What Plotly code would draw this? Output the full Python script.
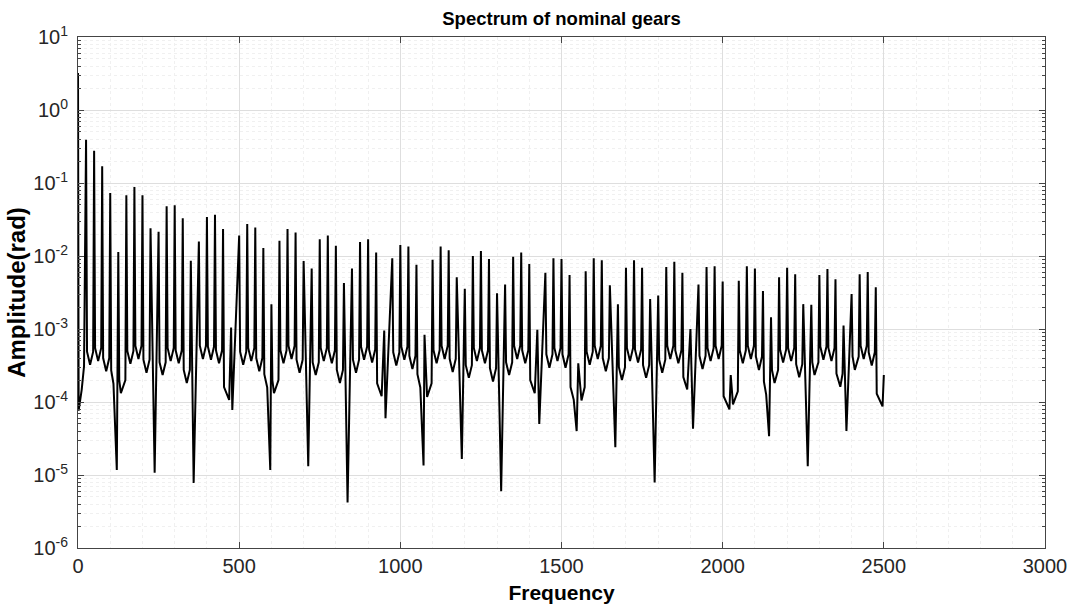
import plotly.graph_objects as go

# DC component
dc_freq = [0]
dc_amp = [3.2]

# Spectral peaks (Hz, rad)
peak_freq = [25, 50, 75, 100, 125, 150, 175, 200, 225, 250, 275, 300, 325, 350, 375, 400,
             425, 450, 475, 500, 525, 550, 575, 600, 625, 650, 675, 700, 725, 750, 775, 800,
             825, 850, 875, 900, 925, 950, 975, 1000, 1025, 1050, 1075, 1100, 1125, 1150,
             1175, 1200, 1225, 1250, 1275, 1300, 1325, 1350, 1375, 1400, 1425, 1450, 1475,
             1500, 1525, 1552, 1575, 1600, 1625, 1650, 1675, 1700, 1725, 1750, 1775, 1800,
             1825, 1850, 1875, 1900, 1925, 1950, 1975, 2000, 2025, 2050, 2075, 2100, 2125,
             2150, 2175, 2200, 2225, 2250, 2275, 2300, 2325, 2350, 2375, 2400, 2425, 2450, 2475]
peak_amp = [0.392, 0.277, 0.169, 0.0729, 0.0113, 0.0678, 0.0881, 0.0678, 0.0239, 0.0215,
            0.0479, 0.0494, 0.0328, 0.00863, 0.0158, 0.0342, 0.0368, 0.0234, 0.00105, 0.0191,
            0.0275, 0.0245, 0.0129, 0.00219, 0.0162, 0.0234, 0.0209, 0.00851, 0.00676, 0.0170,
            0.0191, 0.0138, 0.00427, 0.00676, 0.0155, 0.0170, 0.0112, 0.000955, 0.00933, 0.0141,
            0.0135, 0.00759, 0.000832, 0.00891, 0.0135, 0.0120, 0.00513, 0.00355, 0.0100, 0.0117,
            0.00912, 0.00309, 0.00407, 0.00977, 0.0112, 0.00776, 0.000977, 0.00589, 0.00933,
            0.00912, 0.00550, 0.000339, 0.00617, 0.00933, 0.00871, 0.00398, 0.00219, 0.00692,
            0.00871, 0.00692, 0.00257, 0.00288, 0.00708, 0.00832, 0.00589, 0.00100, 0.00407,
            0.00708, 0.00724, 0.00447, 0.000234, 0.00457, 0.00724, 0.00676, 0.00331, 0.00145,
            0.00513, 0.00692, 0.00562, 0.00219, 0.00214, 0.00550, 0.00661, 0.00479, 0.00112,
            0.00302, 0.00562, 0.00603, 0.00372]

# Base of each spike, where the line leaves the trough and turns vertical (Hz, rad)
shoulder_freq = [28, 47, 53, 72, 78, 97, 103, 128, 147, 153, 172, 178, 197, 203, 222, 253, 272,
                 278, 297, 303, 322, 328, 347, 378, 397, 403, 422, 428, 447, 453, 503, 522, 528,
                 547, 553, 572, 578, 603, 622, 628, 647, 653, 672, 678, 697, 728, 747, 753, 772,
                 778, 797, 803, 822, 853, 872, 878, 897, 903, 922, 928, 978, 997, 1003, 1022,
                 1028, 1047, 1053, 1097, 1103, 1122, 1128, 1147, 1153, 1172, 1203, 1222, 1228,
                 1247, 1253, 1272, 1278, 1297, 1328, 1347, 1353, 1372, 1378, 1397, 1403, 1453,
                 1472, 1478, 1497, 1503, 1522, 1528, 1572, 1578, 1597, 1603, 1622, 1628, 1647,
                 1678, 1697, 1703, 1722, 1728, 1747, 1753, 1772, 1803, 1822, 1828, 1847, 1853,
                 1872, 1878, 1928, 1947, 1953, 1972, 1978, 1997, 2003, 2047, 2053, 2072, 2078,
                 2097, 2103, 2122, 2128, 2153, 2172, 2178, 2197, 2203, 2222, 2228, 2247, 2278,
                 2297, 2303, 2322, 2328, 2347, 2353, 2372, 2403, 2422, 2428, 2447, 2453, 2472,
                 2478]
shoulder_amp = [4.9e-4, 4.9e-4, 5.5e-4, 5.5e-4, 4.0e-4, 4.0e-4, 2.7e-4, 2.0e-4, 2.0e-4, 5.0e-4,
                5.0e-4, 5.9e-4, 5.9e-4, 3.8e-4, 3.8e-4, 3.5e-4, 3.5e-4, 5.5e-4, 5.5e-4, 5.1e-4,
                5.1e-4, 2.75e-4, 2.75e-4, 5.9e-4, 5.9e-4, 5.75e-4, 5.75e-4, 5.1e-4, 5.1e-4,
                1.6e-4, 4.9e-4, 4.9e-4, 5.5e-4, 5.5e-4, 4.0e-4, 4.0e-4, 2.4e-4, 2.0e-4, 2.0e-4,
                5.1e-4, 5.1e-4, 5.9e-4, 5.9e-4, 3.8e-4, 3.8e-4, 3.5e-4, 3.5e-4, 5.5e-4, 5.5e-4,
                5.1e-4, 5.1e-4, 2.75e-4, 2.75e-4, 3.8e-4, 3.8e-4, 5.75e-4, 5.75e-4, 5.25e-4,
                5.25e-4, 1.8e-4, 4.8e-4, 4.8e-4, 5.75e-4, 5.75e-4, 4.3e-4, 4.3e-4, 2.4e-4,
                1.8e-4, 5.1e-4, 5.1e-4, 5.9e-4, 5.9e-4, 3.9e-4, 3.9e-4, 3.2e-4, 3.2e-4, 5.5e-4,
                5.5e-4, 5.1e-4, 5.1e-4, 2.9e-4, 2.9e-4, 3.5e-4, 3.5e-4, 5.9e-4, 5.9e-4, 5.1e-4,
                5.1e-4, 2.0e-4, 4.5e-4, 4.5e-4, 5.5e-4, 5.5e-4, 4.5e-4, 4.5e-4, 1.6e-4, 1.6e-4,
                4.9e-4, 4.9e-4, 5.9e-4, 5.9e-4, 4.0e-4, 4.0e-4, 3.0e-4, 3.0e-4, 5.5e-4, 5.5e-4,
                5.25e-4, 5.25e-4, 3.2e-4, 3.2e-4, 3.8e-4, 3.8e-4, 5.9e-4, 5.9e-4, 5.1e-4, 5.1e-4,
                2.2e-4, 4.3e-4, 4.3e-4, 5.5e-4, 5.5e-4, 5.9e-4, 5.9e-4, 1.2e-4, 1.4e-4, 5.1e-4,
                5.1e-4, 5.9e-4, 5.9e-4, 4.2e-4, 4.2e-4, 1.9e-4, 2.75e-4, 2.75e-4, 5.25e-4,
                5.25e-4, 5.5e-4, 5.5e-4, 3.3e-4, 3.3e-4, 3.5e-4, 3.5e-4, 5.75e-4, 5.75e-4,
                5.5e-4, 5.5e-4, 2.45e-4, 2.45e-4, 4.2e-4, 4.2e-4, 5.9e-4, 5.9e-4, 4.8e-4, 4.8e-4,
                1.3e-4]

# Valleys between peaks, including anti-resonance dips (Hz, rad)
valley_freq = [2, 11.5, 18.7, 37.5, 62.5, 87.5, 110, 120.4, 133, 162.5, 187.5, 212.5, 237.8,
               262.5, 287.5, 312.5, 337.5, 358.8, 387.5, 412.5, 437.5, 469, 478.7, 512.5,
               537.5, 562.5, 587, 596.5, 608, 637.5, 662.5, 687.5, 714.3, 737.5, 762.5, 787.5,
               812.5, 836.3, 862.5, 887.5, 912.5, 942, 954, 987.5, 1012.5, 1037.5, 1062, 1072,
               1083, 1112.5, 1137.5, 1162.5, 1190.8, 1212.5, 1237.5, 1262.5, 1287.5, 1312.8,
               1337.5, 1362.5, 1387.5, 1417, 1431, 1462.5, 1487.5, 1512.5, 1538, 1547, 1562,
               1587.5, 1612.5, 1637.5, 1667, 1687.5, 1712.5, 1737.5, 1762.5, 1789, 1812.5,
               1837.5, 1862.5, 1890, 1908, 1937.5, 1962.5, 1987.5, 2021, 2032, 2062.5, 2087.5,
               2112.5, 2135, 2144, 2161, 2187.5, 2212.5, 2237.5, 2264, 2285, 2312.5, 2337.5,
               2365, 2384, 2410, 2437.5, 2462.5, 2496]
valley_amp = [7.6e-5, 1.48e-4, 3.09e-4, 3.24e-4, 3.63e-4, 2.63e-4, 1.78e-4, 1.17e-5, 1.32e-4,
              3.35e-4, 3.89e-4, 2.51e-4, 1.07e-5, 2.34e-4, 3.63e-4, 3.39e-4, 1.82e-4, 7.8e-6,
              3.89e-4, 3.80e-4, 3.39e-4, 1.07e-4, 7.8e-5, 3.24e-4, 3.63e-4, 2.63e-4, 1.58e-4,
              1.17e-5, 1.32e-4, 3.39e-4, 3.89e-4, 2.51e-4, 1.32e-5, 2.34e-4, 3.63e-4, 3.39e-4,
              1.82e-4, 4.2e-6, 2.51e-4, 3.80e-4, 3.47e-4, 1.20e-4, 6.0e-5, 3.16e-4, 3.80e-4,
              2.82e-4, 1.58e-4, 1.35e-5, 1.17e-4, 3.39e-4, 3.89e-4, 2.57e-4, 1.66e-5, 2.14e-4,
              3.63e-4, 3.39e-4, 1.91e-4, 6.0e-6, 2.34e-4, 3.89e-4, 3.39e-4, 1.32e-4, 5.0e-5,
              2.95e-4, 3.63e-4, 2.95e-4, 1.07e-4, 4.0e-5, 1.05e-4, 3.24e-4, 3.89e-4, 2.63e-4,
              2.4e-5, 2.0e-4, 3.63e-4, 3.47e-4, 2.14e-4, 7.9e-6, 2.51e-4, 3.89e-4, 3.39e-4,
              1.48e-4, 4.3e-5, 2.82e-4, 3.63e-4, 3.89e-4, 7.9e-5, 9.3e-5, 3.39e-4, 3.89e-4,
              2.75e-4, 1.26e-4, 3.4e-5, 1.82e-4, 3.47e-4, 3.63e-4, 2.19e-4, 1.32e-5, 2.34e-4,
              3.80e-4, 3.63e-4, 1.62e-4, 4.0e-5, 2.75e-4, 3.89e-4, 3.16e-4, 8.7e-5]

# Last sample
end_freq = [2500]
end_amp = [2.34e-4]

# Axis ticks
x_ticks = [0, 500, 1000, 1500, 2000, 2500, 3000]
y_tick_vals = [1e-6, 1e-5, 1e-4, 1e-3, 1e-2, 1e-1, 1e0, 1e1]
y_tick_text = ["10<sup>-6</sup>", "10<sup>-5</sup>", "10<sup>-4</sup>", "10<sup>-3</sup>",
               "10<sup>-2</sup>", "10<sup>-1</sup>", "10<sup>0</sup>", "10<sup>1</sup>"]

pts = sorted(zip(dc_freq + peak_freq + shoulder_freq + valley_freq + end_freq,
                 dc_amp + peak_amp + shoulder_amp + valley_amp + end_amp))
freq = [p[0] for p in pts]
amp = [p[1] for p in pts]

FONT = "Liberation Sans, Arial, sans-serif"

fig = go.Figure()
fig.add_trace(go.Scatter(x=freq, y=amp, mode="lines",
                         line=dict(color="black", width=2),
                         showlegend=False))

fig.update_layout(
    width=1073, height=607,
    margin=dict(l=78, r=28, t=37, b=59, autoexpand=False),
    paper_bgcolor="white", plot_bgcolor="white",
    font=dict(family=FONT, color="#262626", size=20),
    title=dict(text="<b>Spectrum of nominal gears</b>", x=0.5, xref="paper",
               y=0.97, yanchor="middle", font=dict(size=18.5, color="black")),
)
fig.update_xaxes(
    range=[0, 3000], tickvals=x_ticks, automargin=False,
    showline=True, linecolor="#444", linewidth=1, mirror="allticks",
    ticks="inside", ticklen=6, tickcolor="#444",
    showgrid=True, gridcolor="#dedede", gridwidth=1, zeroline=False,
    minor=dict(dtick=100, showgrid=True, gridcolor="#f0f0f0", griddash="dot",
               ticks=""),
    title=dict(text="<b>Frequency</b>", font=dict(size=21, color="black"), standoff=9),
    tickfont=dict(size=20, color="#262626"),
)
fig.update_yaxes(
    type="log", range=[-6, 1], tickvals=y_tick_vals, ticktext=y_tick_text, automargin=False,
    showline=True, linecolor="#444", linewidth=1, mirror="allticks",
    ticks="inside", ticklen=6, tickcolor="#444", ticklabelstandoff=5,
    showgrid=True, gridcolor="#dedede", gridwidth=1, zeroline=False,
    minor=dict(dtick="D1", showgrid=True, gridcolor="#f0f0f0", griddash="dot",
               ticks="inside", ticklen=3, tickcolor="#444"),
    title=dict(text="<b>Amplitude(rad)</b>", font=dict(size=24, color="black"), standoff=0),
    tickfont=dict(size=20, color="#262626"),
)

fig.write_html("out.html")
